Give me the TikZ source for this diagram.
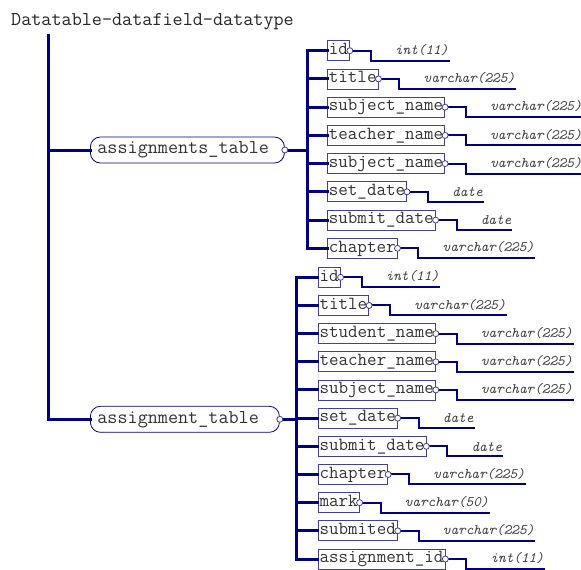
\documentclass[tikz,border=0pt]{standalone}
\usepackage{fontspec}
\usepackage{tikz}
\usetikzlibrary{arrows.meta,positioning}
\definecolor{navy}{RGB}{0,0,128}
\definecolor{boxblue}{RGB}{64,64,160}
\tikzset{
  trunk/.style={navy,line width=3pt,line cap=rect},
  link/.style={navy,line width=2pt},
  tbl/.style={draw=navy,line width=0.8pt,rounded corners=10pt,minimum height=26pt,
    inner xsep=7pt,align=left,anchor=west,text=black!80,font=\ttfamily\fontsize{19.6}{22}\selectfont},
  fld/.style={draw=boxblue,line width=0.8pt,minimum height=20pt,inner xsep=1.5pt,
    inner ysep=0pt,anchor=west,text height=11.5pt,text depth=4pt,text=black!80,
    font=\ttfamily\fontsize{18.5}{20}\selectfont},
  typ/.style={anchor=south west,inner xsep=1pt,inner ysep=5pt,text=black!75,
    font=\ttfamily\itshape\fontsize{14.5}{16}\selectfont},
  dot/.style={circle,draw=boxblue,fill=white,line width=0.8pt,inner sep=0pt,minimum size=6pt},
}

\begin{document}
\begin{tikzpicture}[x=1pt,y=-1pt]
  \useasboundingbox (0,0) rectangle (581,570);
  % title and main trunk
  \node[anchor=base west,inner sep=0pt,text=black!85,font=\ttfamily\fontsize{19.6}{22}\selectfont] (title) at (11,25) {Datatable-datafield-datatype};
  \coordinate (root) at (48,35);
  \node[tbl,text width=180pt] (as) at (90,150) {assignments\_table};
  \node[tbl,text width=175pt] (an) at (90,419.3) {assignment\_table};
  \draw[trunk] (root) |- (an.west);
  \draw[trunk] (root |- as.west) -- (as.west);
  % assignments_table fields
  \coordinate (asbus) at (307,50.7);
  \foreach \f/\t [count=\i] in {id/int(11), title/varchar(225), subject\_name/varchar(225),
      teacher\_name/varchar(225), subject\_name/varchar(225), set\_date/date,
      submit\_date/date, chapter/varchar(225)} {
    \node[fld] (as\i) at (327,{50.7+28.23*(\i-1)}) {\f};
    \node[typ] (ast\i) at ([shift={(44,10)}]as\i.east) {\t};
    \draw[trunk] (asbus |- as\i.west) -- (as\i.west);
    \draw[link] (as\i.east) node[dot]{} -- ++(21,0) |- (ast\i.south east);
  }
  \draw[trunk] (asbus) -- (asbus |- as8.west);
  \draw[trunk] (as.east) node[dot]{} -- (asbus |- as.east);
  % assignment_table fields
  \coordinate (anbus) at (296.7,277.3);
  \foreach \f/\t [count=\i] in {id/int(11), title/varchar(225), student\_name/varchar(225),
      teacher\_name/varchar(225), subject\_name/varchar(225), set\_date/date,
      submit\_date/date, chapter/varchar(225), mark/varchar(50), submited/varchar(225),
      assignment\_id/int(11)} {
    \node[fld] (an\i) at (317.7,{277.3+28.17*(\i-1)}) {\f};
    \node[typ] (ant\i) at ([shift={(44,10)}]an\i.east) {\t};
    \draw[trunk] (anbus |- an\i.west) -- (an\i.west);
    \draw[link] (an\i.east) node[dot]{} -- ++(21,0) |- (ant\i.south east);
  }
  \draw[trunk] (anbus) -- (anbus |- an11.west);
  \draw[trunk] (an.east) node[dot]{} -- (anbus |- an.east);
\end{tikzpicture}
\end{document}
